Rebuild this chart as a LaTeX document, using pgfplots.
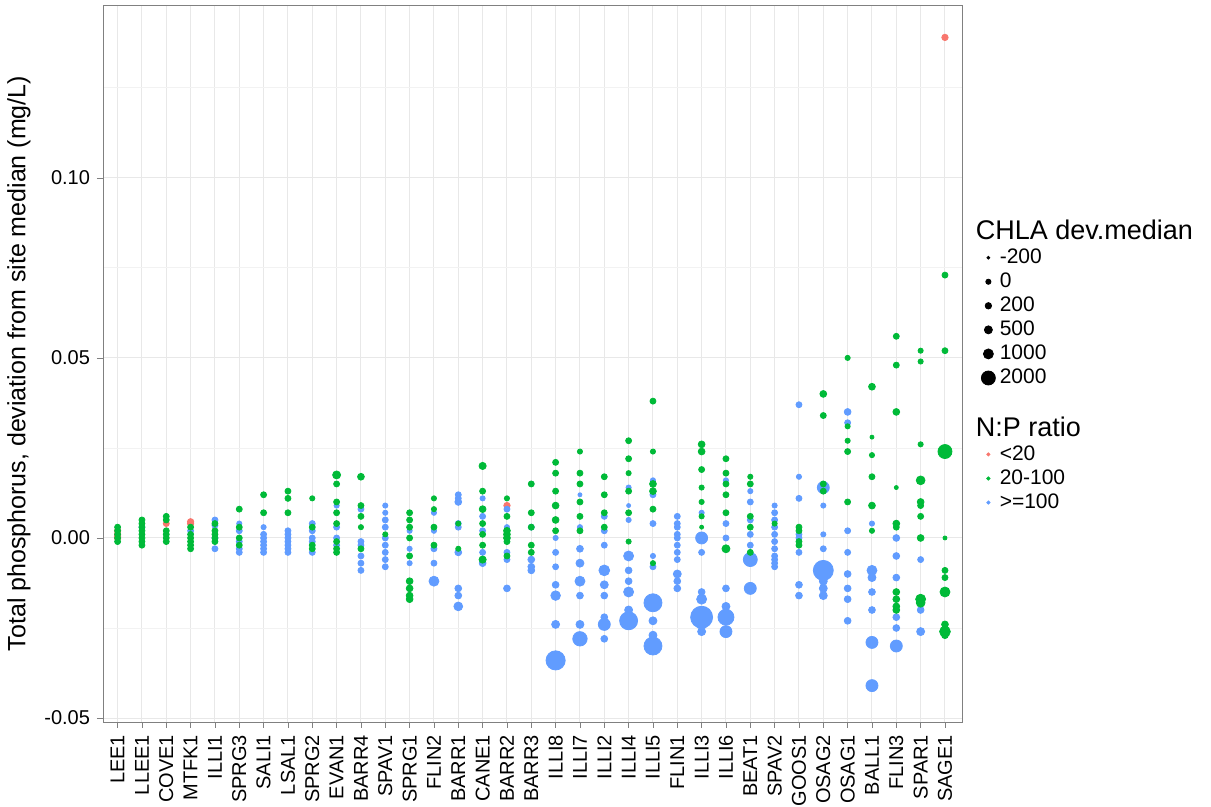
\documentclass[border=0pt]{standalone}
\usepackage{pgfplots}
\pgfplotsset{compat=1.18}
\usepackage{pgfplotstable}
\usepackage{fontspec}
\setmainfont{Liberation Sans}
\definecolor{cr}{HTML}{F8766D}
\definecolor{cg}{HTML}{00BA38}
\definecolor{cb}{HTML}{619CFF}
\pgfplotstableread{
x y s
0 0.002 1.6
0 0.001 1.6
0 0.0005 1.6
0 0.0 1.6
2 0.004 1.5
3 0.0045 1.6
3 0.004 1.6
16 0.009 1.6
34 0.139 1.6
}\tred
\pgfplotstableread{
x y s
0 0.003 1.5
0 0.002 1.5
0 0.001 1.5
0 0.0 1.5
0 -0.001 1.5
1 0.005 1.5
1 0.004 1.5
1 0.003 1.5
1 0.002 1.5
1 0.001 1.5
1 0.0 1.5
1 -0.001 1.5
1 -0.002 1.5
2 0.006 1.5
2 0.005 1.5
2 0.002 1.5
2 0.001 1.5
2 0.0 1.5
2 -0.001 1.5
3 0.003 1.5
3 0.001 1.5
3 0.0 1.5
3 -0.001 1.5
3 -0.002 1.5
3 -0.003 1.5
4 0.004 1.5
4 0.002 1.5
4 0.001 1.5
4 -0.001 1.5
4 0.0 1.5
5 0.008 1.5
5 0.003 1.5
5 0.0 1.5
5 -0.002 1.5
6 0.012 1.5
6 0.007 1.5
7 0.013 1.5
7 0.011 1.5
7 0.007 1.5
8 0.011 1.3
8 0.003 1.5
8 -0.002 1.5
8 -0.003 1.5
9 0.0175 2.0
9 0.015 1.5
9 0.010 1.5
9 0.007 1.5
9 0.004 1.5
9 -0.001 1.5
9 -0.003 1.5
9 -0.004 1.5
10 0.017 1.7
10 0.009 1.5
10 0.006 1.5
10 0.003 1.3
10 -0.003 1.5
11 0.001 1.3
12 0.007 1.5
12 0.005 1.5
12 0.003 1.5
12 0.0 1.5
12 -0.005 1.5
12 -0.012 1.7
12 -0.014 1.7
12 -0.016 1.7
12 -0.017 1.7
13 0.011 1.3
13 0.008 1.3
13 0.003 1.5
13 -0.002 1.5
14 0.004 1.3
14 -0.003 1.3
15 0.020 1.8
15 0.013 1.5
15 0.008 1.7
15 0.004 1.5
15 0.001 1.5
15 -0.002 1.5
15 -0.006 1.8
16 0.011 1.3
16 0.006 1.5
16 0.002 1.7
16 0.001 1.7
16 0.0 1.7
16 -0.001 1.5
16 -0.005 1.5
17 0.015 1.5
17 0.007 1.5
17 0.003 1.5
17 -0.002 1.5
17 -0.004 1.5
18 0.021 1.5
18 0.018 1.5
18 0.013 1.5
18 0.009 1.7
18 0.005 1.7
18 0.002 1.5
19 0.024 1.3
19 0.018 1.5
19 0.015 1.5
19 0.010 1.5
19 0.006 1.5
19 0.002 1.5
20 0.017 1.5
20 0.012 1.5
20 0.007 1.5
20 0.003 1.5
21 0.027 1.5
21 0.022 1.5
21 0.018 1.3
21 0.013 1.5
21 0.007 1.5
21 -0.001 1.3
22 0.038 1.5
22 0.024 1.3
22 0.015 1.7
22 0.013 1.7
22 0.008 1.5
22 -0.007 1.3
24 0.026 1.7
24 0.024 1.7
24 0.019 1.5
24 0.014 1.3
24 0.010 1.3
24 0.006 1.3
24 0.003 1.0
25 0.022 1.5
25 0.018 1.5
25 0.015 1.5
25 0.012 1.5
25 0.007 1.5
25 -0.003 2.0
26 0.017 1.3
26 0.015 1.5
26 0.006 1.5
26 0.003 1.5
26 -0.004 1.5
27 0.004 1.3
28 0.003 1.5
28 0.002 1.5
28 -0.001 1.5
28 -0.002 1.5
29 0.040 1.7
29 0.034 1.5
29 0.015 1.5
29 0.013 1.5
30 0.050 1.3
30 0.031 1.3
30 0.027 1.3
30 0.024 1.5
30 0.010 1.5
31 0.042 1.7
31 0.028 1.0
31 0.023 1.3
31 0.017 1.5
31 0.009 1.7
31 0.002 1.3
32 0.056 1.5
32 0.048 1.5
32 0.035 1.7
32 0.014 1.0
32 0.004 1.7
32 0.003 1.5
32 -0.015 1.7
32 -0.017 1.7
32 -0.019 1.7
32 -0.020 1.7
33 0.052 1.3
33 0.049 1.3
33 0.026 1.3
33 0.016 2.2
33 0.010 1.7
33 0.009 1.5
33 0.006 1.5
33 0.0 1.7
33 -0.017 2.5
33 -0.018 2.2
34 0.073 1.5
34 0.052 1.5
34 0.024 3.5
34 0.0 1.0
34 -0.009 1.5
34 -0.011 1.5
34 -0.015 2.5
34 -0.024 1.7
34 -0.026 2.7
34 -0.027 1.7
}\tgreen
\pgfplotstableread{
x y s
1 0.003 1.5
3 0.002 1.5
4 0.005 1.5
4 0.0035 1.5
4 -0.003 1.5
4 0.0 1.5
5 0.004 1.3
5 0.002 1.5
5 -0.001 1.5
5 -0.003 1.5
5 -0.004 1.5
6 0.003 1.3
6 0.001 1.5
6 -0.001 1.5
6 -0.002 1.5
6 -0.003 1.5
6 -0.004 1.5
6 0.0 1.5
7 0.002 1.5
7 0.001 1.5
7 0.0 1.5
7 -0.001 1.5
7 -0.002 1.5
7 -0.003 1.5
7 -0.004 1.5
8 0.004 1.5
8 0.002 1.5
8 0.0 1.5
8 -0.001 1.5
8 -0.004 1.5
9 0.009 1.3
9 0.003 1.5
9 0.0 1.5
9 -0.002 1.5
10 0.008 1.5
10 -0.001 1.5
10 -0.002 1.5
10 -0.005 1.5
10 -0.007 1.5
10 -0.009 1.5
11 0.009 1.3
11 0.007 1.3
11 0.005 1.5
11 0.003 1.5
11 0.0 1.5
11 -0.002 1.5
11 -0.004 1.5
11 -0.006 1.5
11 -0.008 1.5
12 0.002 1.3
12 -0.003 1.3
12 -0.007 1.3
13 0.007 1.3
13 0.002 1.3
13 -0.003 1.5
13 -0.007 1.5
13 -0.012 2.5
14 0.012 1.5
14 0.011 1.5
14 0.010 1.7
14 0.004 1.5
14 0.003 1.5
14 -0.004 1.7
14 -0.014 1.7
14 -0.016 1.7
14 -0.019 2.2
15 0.011 1.3
15 0.006 1.5
15 0.002 1.5
15 -0.004 1.5
15 -0.007 1.7
16 0.008 1.5
16 0.003 1.3
16 -0.004 1.5
16 -0.006 1.5
16 -0.014 1.7
17 0.015 1.3
17 0.003 1.5
17 -0.006 1.7
17 -0.008 1.7
17 -0.009 1.7
18 0.0 1.3
18 -0.004 1.5
18 -0.008 1.5
18 -0.013 1.7
18 -0.016 2.4
18 -0.024 2.0
18 -0.034 4.8
19 0.012 1.0
19 0.003 1.3
19 -0.003 1.7
19 -0.007 2.0
19 -0.012 2.5
19 -0.016 1.7
19 -0.024 2.0
19 -0.028 3.6
20 0.006 1.5
20 0.002 1.5
20 -0.002 1.5
20 -0.009 2.7
20 -0.013 2.0
20 -0.016 1.7
20 -0.022 1.7
20 -0.024 3.0
20 -0.028 1.7
21 0.014 1.3
21 0.009 1.0
21 0.005 1.3
21 -0.005 2.5
21 -0.009 1.7
21 -0.012 1.7
21 -0.015 2.5
21 -0.020 2.0
21 -0.023 4.5
22 0.016 1.3
22 0.012 1.5
22 0.004 1.5
22 -0.005 1.3
22 -0.008 1.5
22 -0.018 4.5
22 -0.023 2.0
22 -0.027 2.0
22 -0.030 4.5
23 0.006 1.5
23 0.004 1.5
23 0.003 1.5
23 0.001 1.5
23 0.0 1.5
23 -0.002 1.5
23 -0.004 1.5
23 -0.006 1.5
23 -0.010 2.0
23 -0.012 1.7
23 -0.014 1.7
24 0.007 1.3
24 0.0 3.0
24 -0.004 1.5
24 -0.015 1.7
24 -0.017 2.5
24 -0.022 5.5
24 -0.024 2.5
24 -0.026 2.0
25 0.016 1.3
25 0.004 1.5
25 0.0 1.5
25 -0.014 1.7
25 -0.019 2.0
25 -0.022 4.0
25 -0.026 3.0
26 0.013 1.3
26 0.010 1.5
26 0.005 1.5
26 0.001 1.5
26 -0.002 1.5
26 -0.006 3.5
26 -0.014 3.0
27 0.009 1.3
27 0.007 1.5
27 0.005 1.5
27 0.003 1.5
27 0.001 1.5
27 -0.001 1.5
27 -0.003 1.5
27 -0.005 1.5
27 -0.006 1.5
27 -0.007 1.5
27 -0.008 1.5
28 0.037 1.5
28 0.017 1.3
28 0.011 1.5
28 0.001 1.5
28 0.0 1.5
28 -0.004 1.5
28 -0.013 1.7
28 -0.016 1.7
29 0.014 3.0
29 0.009 1.3
29 0.001 1.3
29 -0.003 1.5
29 -0.009 5.0
29 -0.012 2.0
29 -0.014 2.0
29 -0.016 2.0
30 0.035 1.7
30 0.032 1.5
30 0.002 1.5
30 -0.004 1.5
30 -0.010 1.7
30 -0.014 1.7
30 -0.017 1.7
30 -0.023 1.7
31 0.004 1.3
31 -0.009 2.5
31 -0.011 2.0
31 -0.015 1.7
31 -0.020 1.7
31 -0.029 3.0
31 -0.041 3.0
32 0.0 1.7
32 -0.005 1.7
32 -0.011 1.7
32 -0.022 1.7
32 -0.025 1.7
32 -0.030 3.0
33 -0.006 1.5
33 -0.018 1.7
33 -0.020 1.7
33 -0.026 2.0
}\tblue
\pgfplotsset{bub/.style={only marks, mark=*, color=#1, scatter,
  scatter/use mapped color={draw=#1, fill=#1},
  point meta=\thisrow{s},
  visualization depends on={\thisrow{s}\as\ms},
  scatter/@pre marker code/.append style={/tikz/mark size=\ms pt}}}
\begin{document}
\begin{tikzpicture}
\useasboundingbox (0,0) rectangle (605.5pt,403.5pt);
\begin{axis}[
  at={(51.5pt,42.5pt)}, anchor=south west,
  width=429.5pt, height=358.5pt, scale only axis,
  xmin=-0.6, xmax=34.7, ymin=-0.0511, ymax=0.148,
  xtick={0,...,34},
  xticklabels={LEE1,LLEE1,COVE1,MTFK1,ILLI1,SPRG3,SALI1,LSAL1,SPRG2,EVAN1,BARR4,SPAV1,SPRG1,FLIN2,BARR1,CANE1,BARR2,BARR3,ILLI8,ILLI7,ILLI2,ILLI4,ILLI5,FLIN1,ILLI3,ILLI6,BEAT1,SPAV2,GOOS1,OSAG2,OSAG1,BALL1,FLIN3,SPAR1,SAGE1},
  x tick label style={rotate=90, anchor=east, font=\fontsize{10}{10}\selectfont},
  ytick={-0.05,0,0.05,0.1},
  yticklabels={-0.05,0.00,0.05,0.10},
  minor ytick={-0.025,0.025,0.075,0.125},
  y tick label style={font=\fontsize{10}{10}\selectfont},
  /pgf/number format/assume math mode=true,
  xtick pos=bottom, ytick pos=left,
  grid=both,
  major grid style={color=black!9, line width=0.5pt},
  minor grid style={color=black!5, line width=0.4pt},
  axis line style={black!50},
  tick style={black!50},
  tick align=outside,
  major tick length=3pt,
  minor tick length=0pt,
  ylabel={Total phosphorus, deviation from site median (mg/L)},
  ylabel style={font=\fontsize{12.5}{12.5}\selectfont},
  clip=false,
]
\addplot[bub=cr] table[x=x,y=y] {\tred};
\addplot[bub=cb] table[x=x,y=y] {\tblue};
\addplot[bub=cg] table[x=x,y=y] {\tgreen};
\end{axis}
\begin{axis}[
  at={(51.5pt,42.5pt)}, anchor=south west,
  width=429.5pt, height=358.5pt, scale only axis, hide axis,
  xmin=0,xmax=1,ymin=0,ymax=1,
  legend style={at={(1.01,0.712)}, anchor=north west, draw=none, fill=none,
    font=\fontsize{10.5}{12}\selectfont, row sep=-0.8pt, cells={anchor=west}},
  legend image code/.code={\draw[#1] (0.2cm,0cm) circle;},
]
\addlegendimage{empty legend}\addlegendentry{\hspace{-0.42cm}\fontsize{13.5}{13.5}\selectfont CHLA dev.median}
\addlegendimage{black, fill=black, radius=0.7pt}\addlegendentry{-200}
\addlegendimage{black, fill=black, radius=1.3pt}\addlegendentry{0}
\addlegendimage{black, fill=black, radius=1.6pt}\addlegendentry{200}
\addlegendimage{black, fill=black, radius=2.0pt}\addlegendentry{500}
\addlegendimage{black, fill=black, radius=2.5pt}\addlegendentry{1000}
\addlegendimage{black, fill=black, radius=3.5pt}\addlegendentry{2000}
\addlegendimage{empty legend}\addlegendentry{\rule{0pt}{7pt}}
\addlegendimage{empty legend}\addlegendentry{\hspace{-0.42cm}\fontsize{13.5}{13.5}\selectfont N:P ratio}
\addlegendimage{cr, fill=cr, radius=0.8pt}\addlegendentry{<20}
\addlegendimage{cg, fill=cg, radius=0.8pt}\addlegendentry{20-100}
\addlegendimage{cb, fill=cb, radius=0.8pt}\addlegendentry{>=100}
\end{axis}
\end{tikzpicture}
\end{document}
